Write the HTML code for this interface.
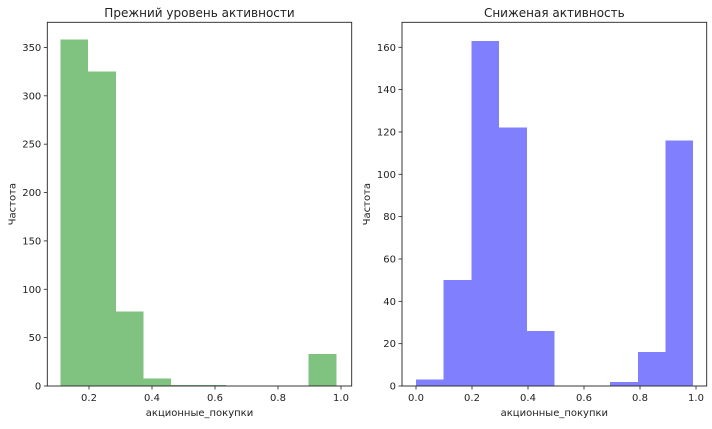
<!DOCTYPE html>
<html><head><meta charset="utf-8">
<style>
body{margin:0;background:#fff;}
svg text{font-family:"DejaVu Sans","Liberation Sans",sans-serif;fill:#222;}
</style></head>
<body>
<svg id="chart" width="712" height="424" xmlns="http://www.w3.org/2000/svg"></svg>
<script>
// Left panel data
const leftBinStart = 0.11;
const leftBinWidth = 0.0875;
const leftCounts = [358, 325, 77, 8, 1, 1, 0, 0, 0, 33];
const leftXTicks = [0.2, 0.4, 0.6, 0.8, 1.0];
const leftYTicks = [0, 50, 100, 150, 200, 250, 300, 350];
// Right panel data
const rightBinStart = 0.0;
const rightBinWidth = 0.099;
const rightCounts = [3, 50, 163, 122, 26, 0, 0, 2, 16, 116];
const rightXTicks = [0.0, 0.2, 0.4, 0.6, 0.8, 1.0];
const rightYTicks = [0, 20, 40, 60, 80, 100, 120, 140, 160];

const svg = document.getElementById('chart');
const NS = 'http://www.w3.org/2000/svg';
function mk(tag, attrs){const e=document.createElementNS(NS,tag);for(const k in attrs)e.setAttribute(k,attrs[k]);return e;}

function panel(cfg){
  const g = mk('g',{});
  
  
  svg.appendChild(g);
  const L=cfg.left,R=cfg.right,T=22.3,B=386;
  const xs=v=>cfg.x0px+v*cfg.xScale;
  const ys=v=>B-(v/cfg.yMax)*(B-T);
  cfg.counts.forEach((c,i)=>{
    if(c<=0) return;
    const x1=xs(cfg.binStart+i*cfg.binWidth), x2=xs(cfg.binStart+(i+1)*cfg.binWidth);
    const r=mk('rect',{x:x1,y:ys(c),width:x2-x1,height:B-ys(c),fill:cfg.color,'shape-rendering':'crispEdges'});
    
    
    g.appendChild(r);
  });
  g.appendChild(mk('rect',{x:L,y:T,width:R-L,height:B-T,fill:'none',stroke:'#222','stroke-width':0.9}));
  cfg.xTicks.forEach(t=>{
    const x=xs(t);
    g.appendChild(mk('line',{x1:x,x2:x,y1:B,y2:B+3.5,stroke:'#222','stroke-width':0.8}));
    const tx=mk('text',{x:x,y:B+15,'font-size':10,'text-anchor':'middle'});
    tx.textContent=t.toFixed(1);
    
    
    g.appendChild(tx);
  });
  cfg.yTicks.forEach(t=>{
    const y=ys(t);
    g.appendChild(mk('line',{x1:L-3.5,x2:L,y1:y,y2:y,stroke:'#222','stroke-width':0.8}));
    const tx=mk('text',{x:L-6,y:y+3.5,'font-size':10,'text-anchor':'end'});
    tx.textContent=t;
    
    
    g.appendChild(tx);
  });
  const ti=mk('text',{x:(L+R)/2,y:17,'font-size':12,'text-anchor':'middle'});
  ti.textContent=cfg.title;
  
  
  g.appendChild(ti);
  const xl=mk('text',{x:(L+R)/2,y:416,'font-size':10,'text-anchor':'middle'});
  xl.textContent='акционные_покупки';
  
  
  g.appendChild(xl);
  const yx=L-32, yy=(T+B)/2;
  const yl=mk('text',{x:yx,y:yy,'font-size':10,'text-anchor':'middle',transform:`rotate(-90 ${yx} ${yy})`});
  yl.textContent='Частота';
  
  
  g.appendChild(yl);
}

panel({name:'left-histogram',left:47.3,right:351.7,x0px:26,xScale:315,yMax:376,
  binStart:leftBinStart,binWidth:leftBinWidth,counts:leftCounts,xTicks:leftXTicks,yTicks:leftYTicks,
  color:'#80c280',title:'Прежний уровень активности'});
panel({name:'right-histogram',left:402,right:706.7,x0px:416,xScale:280,yMax:171.8,
  binStart:rightBinStart,binWidth:rightBinWidth,counts:rightCounts,xTicks:rightXTicks,yTicks:rightYTicks,
  color:'#8080ff',title:'Сниженая активность'});
</script>
</body></html>
